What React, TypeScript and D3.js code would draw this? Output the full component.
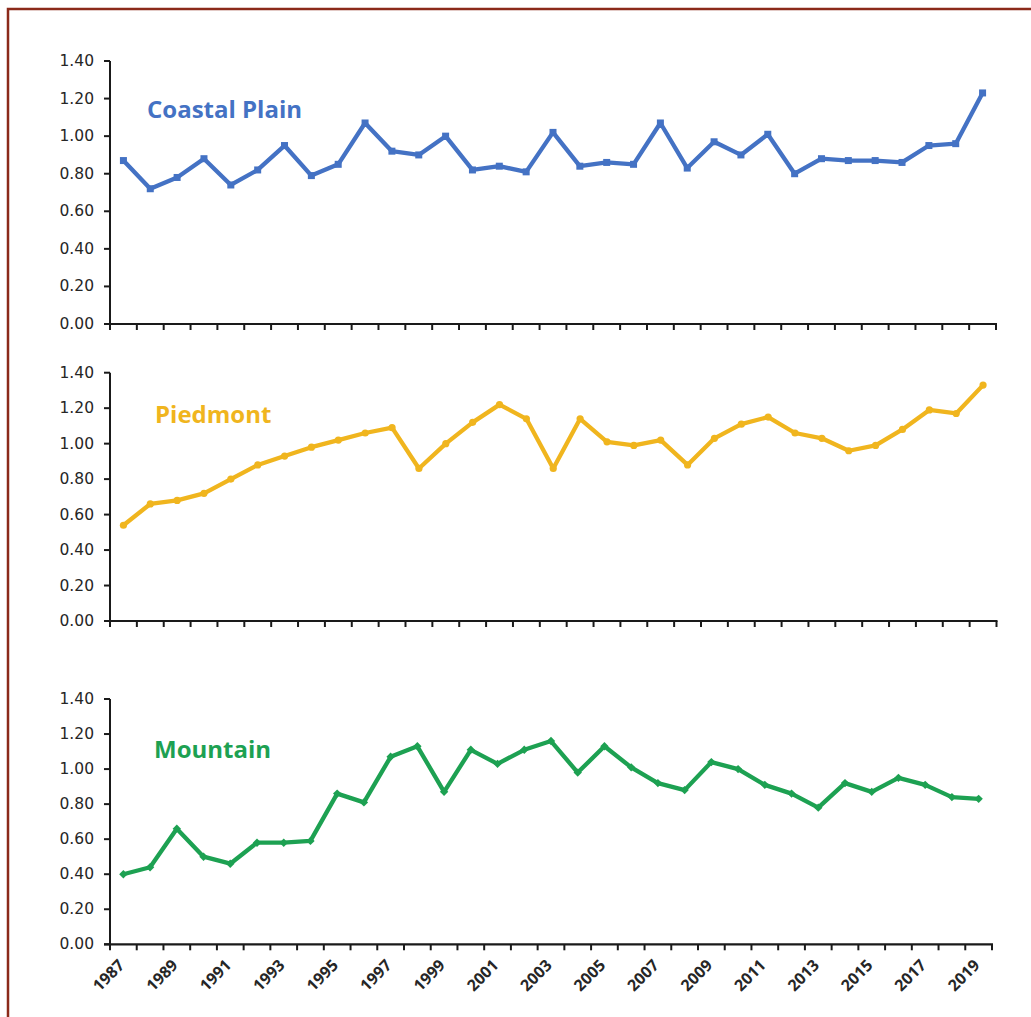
import React from "react";
import * as d3 from "d3";

const years: number[] = d3.range(1987, 2020);
const yTicks: number[] = [0, 0.2, 0.4, 0.6, 0.8, 1.0, 1.2, 1.4];

const coastalPlain: number[] = [
  0.87, 0.72, 0.78, 0.88, 0.74, 0.82, 0.95, 0.79, 0.85, 1.07, 0.92, 0.9, 1.0, 0.82, 0.84, 0.81,
  1.02, 0.84, 0.86, 0.85, 1.07, 0.83, 0.97, 0.9, 1.01, 0.8, 0.88, 0.87, 0.87, 0.86, 0.95, 0.96, 1.23,
];
const piedmont: number[] = [
  0.54, 0.66, 0.68, 0.72, 0.8, 0.88, 0.93, 0.98, 1.02, 1.06, 1.09, 0.86, 1.0, 1.12, 1.22, 1.14,
  0.86, 1.14, 1.01, 0.99, 1.02, 0.88, 1.03, 1.11, 1.15, 1.06, 1.03, 0.96, 0.99, 1.08, 1.19, 1.17, 1.33,
];
const mountain: number[] = [
  0.4, 0.44, 0.66, 0.5, 0.46, 0.58, 0.58, 0.59, 0.86, 0.81, 1.07, 1.13, 0.87, 1.11, 1.03, 1.11,
  1.16, 0.98, 1.13, 1.01, 0.92, 0.88, 1.04, 1.0, 0.91, 0.86, 0.78, 0.92, 0.87, 0.95, 0.91, 0.84, 0.83,
];

type Panel = {
  name: string;
  values: number[];
  color: string;
  marker: "square" | "circle" | "diamond";
  top: number;
  bottom: number;
  left: number;
  right: number;
  titleX: number;
  titleY: number;
  showYears: boolean;
};

const panels: Panel[] = [
  { name: "Coastal Plain", values: coastalPlain, color: "#4472C4", marker: "square", top: 61, bottom: 324, left: 110, right: 996, titleX: 147, titleY: 118, showYears: false },
  { name: "Piedmont", values: piedmont, color: "#F0B51E", marker: "circle", top: 372.7, bottom: 621, left: 110, right: 996.5, titleX: 155, titleY: 423, showYears: false },
  { name: "Mountain", values: mountain, color: "#1DA152", marker: "diamond", top: 699, bottom: 944.3, left: 110, right: 992, titleX: 154, titleY: 758, showYears: true },
];

const axisColor = "#1a1a1a";
const labelColor = "#262626";

function Marker({ type, x, y, color }: { type: string; x: number; y: number; color: string }) {
  if (type === "square") return <rect x={x - 3.5} y={y - 3.5} width={7} height={7} fill={color} />;
  if (type === "circle") return <circle cx={x} cy={y} r={3.6} fill={color} />;
  const r = 4.2;
  return <path d={`M${x},${y - r}L${x + r},${y}L${x},${y + r}L${x - r},${y}Z`} fill={color} />;
}

function ChartPanel({ p }: { p: Panel }) {
  const x = d3.scaleBand<number>().domain(years).range([p.left, p.right]).paddingInner(0).paddingOuter(0);
  const y = d3.scaleLinear().domain([0, 1.4]).range([p.bottom, p.top]);
  const cx = (yr: number) => (x(yr) as number) + x.bandwidth() / 2;
  const line = d3
    .line<number>()
    .x((_, i) => cx(years[i]))
    .y((v) => y(v));
  const boundaries = years.map((yr) => x(yr) as number).concat([p.right]);
  return (
    <g>
      <line x1={p.left} x2={p.left} y1={p.top} y2={p.bottom} stroke={axisColor} strokeWidth={2} />
      {yTicks.map((t) => (
        <g key={t}>
          <line x1={p.left - 6} x2={p.left} y1={y(t)} y2={y(t)} stroke={axisColor} strokeWidth={2} />
          <text
            x={94}
            y={y(t)}
            textAnchor="end"
            dominantBaseline="central"
            fontFamily="'DejaVu Sans', sans-serif"
            fontSize={15.5}
            fill={labelColor}
          >
            {t.toFixed(2)}
          </text>
        </g>
      ))}
      <line x1={p.left - 6} x2={p.right + 1} y1={p.bottom} y2={p.bottom} stroke={axisColor} strokeWidth={2.2} />
      {boundaries.map((bx, i) => (
        <line key={i} x1={bx} x2={bx} y1={p.bottom} y2={p.bottom + 6} stroke={axisColor} strokeWidth={2} />
      ))}
      {p.showYears &&
        years
          .filter((yr) => yr % 2 === 1)
          .map((yr) => {
            const ax = cx(yr) + 2;
            const ay = p.bottom + 22;
            return (
              <text
                key={yr}
                transform={`translate(${ax},${ay}) rotate(-45)`}
                textAnchor="end"
                fontFamily="'Open Sans', sans-serif"
                fontWeight={700}
                fontSize={16}
                fill={labelColor}
              >
                {yr}
              </text>
            );
          })}
      <path d={line(p.values) || ""} fill="none" stroke={p.color} strokeWidth={4.3} strokeLinejoin="round" />
      {p.values.map((v, i) => (
        <Marker key={i} type={p.marker} x={cx(years[i])} y={y(v)} color={p.color} />
      ))}
      <text
        x={p.titleX}
        y={p.titleY}
        fontFamily="'Open Sans', sans-serif"
        fontWeight={700}
        fontSize={24}
        fill={p.color}
      >
        {p.name}
      </text>
    </g>
  );
}

export default function App() {
  return (
    <svg
      width={1031}
      height={1017}
      style={{ position: "absolute", left: 0, top: 0, background: "#fff" }}
    >
      <rect x={0} y={0} width={1031} height={1017} fill="#fff" />
      <path d="M8,1017 V9 H1031" fill="none" stroke="#8B2A1A" strokeWidth={2.5} />
      {panels.map((p) => (
        <ChartPanel key={p.name} p={p} />
      ))}
    </svg>
  );
}
